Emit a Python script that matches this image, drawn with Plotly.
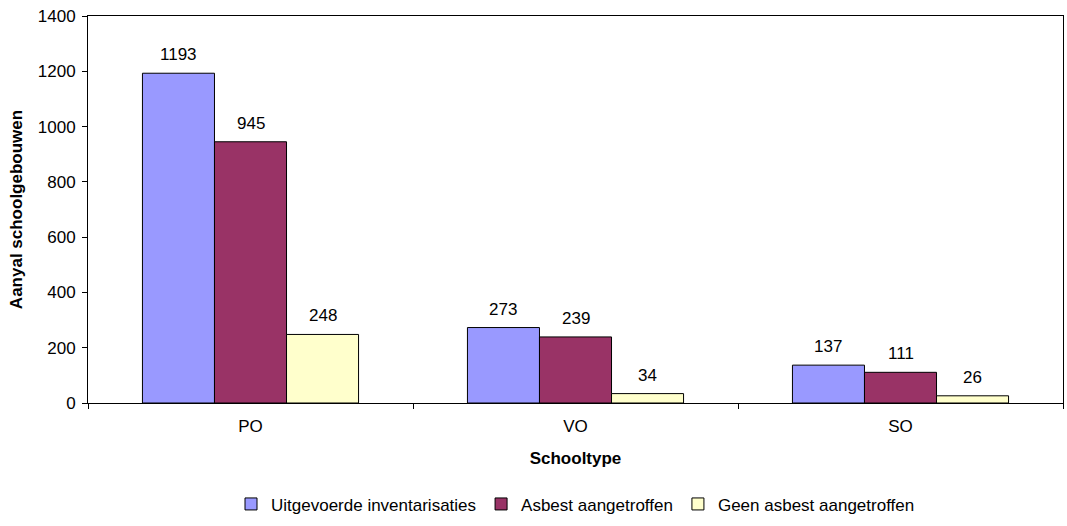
import plotly.graph_objects as go

categories = ["PO", "VO", "SO"]
series_names = ["Uitgevoerde inventarisaties", "Asbest aangetroffen", "Geen asbest aangetroffen"]
uitgevoerd = [1193, 273, 137]
asbest = [945, 239, 111]
geen_asbest = [248, 34, 26]
colors = ["#9999FF", "#993366", "#FFFFCC"]
y_ticks = [0, 200, 400, 600, 800, 1000, 1200, 1400]

FONT = "Liberation Sans, Arial, sans-serif"
FS = 17
series = [uitgevoerd, asbest, geen_asbest]
bargap = 0.335

fig = go.Figure()
for name, vals, col in zip(series_names, series, colors):
    fig.add_trace(go.Bar(
        x=categories, y=vals, name=name,
        marker=dict(color=col, line=dict(color="#000000", width=1)),
    ))

bw = (1 - bargap) / 3
annotations = []
for j, vals in enumerate(series):
    for i, v in enumerate(vals):
        annotations.append(dict(
            x=i + (j - 1) * bw, y=v, xref="x", yref="y",
            text=str(v), showarrow=False, yanchor="bottom", yshift=7,
            font=dict(family=FONT, size=FS, color="#000000"),
        ))

fig.update_layout(
    width=1067, height=526,
    margin=dict(l=88, r=4, t=16, b=113),
    paper_bgcolor="white", plot_bgcolor="white",
    barmode="group", bargap=bargap, bargroupgap=0,
    font=dict(family=FONT, size=FS, color="#000000"),
    showlegend=True,
    legend=dict(orientation="h", x=0.5, xanchor="center", y=-0.262, yanchor="middle",
                font=dict(family=FONT, size=FS), itemwidth=30, traceorder="normal",
                tracegroupgap=0),
    annotations=annotations,
    xaxis=dict(
        title=dict(text="<b>Schooltype</b>", font=dict(family=FONT, size=FS), standoff=16),
        automargin=False,
        showline=True, linecolor="#000000", linewidth=1, mirror=True,
        ticks="outside", ticklen=5, tickcolor="#000000", tickson="boundaries",
        ticklabelstandoff=8,
        showgrid=False, tickfont=dict(family=FONT, size=FS),
    ),
    yaxis=dict(
        title=dict(text="<b>Aanyal schoolgebouwen</b>", font=dict(family=FONT, size=FS), standoff=10),
        automargin=False,
        range=[0, 1400], tickvals=y_ticks,
        showline=True, linecolor="#000000", linewidth=1, mirror=True,
        ticks="outside", ticklen=5, tickcolor="#000000",
        ticklabelstandoff=3, ticklabeloverflow="allow",
        showgrid=False, zeroline=False, tickfont=dict(family=FONT, size=FS),
    ),
)

# remove the browser's default 8px body margin so the figure fills the window
fig.write_html(
    "out.html",
    config={"displayModeBar": False},
    post_script="document.body.style.margin='0';document.body.style.overflow='hidden';",
)
